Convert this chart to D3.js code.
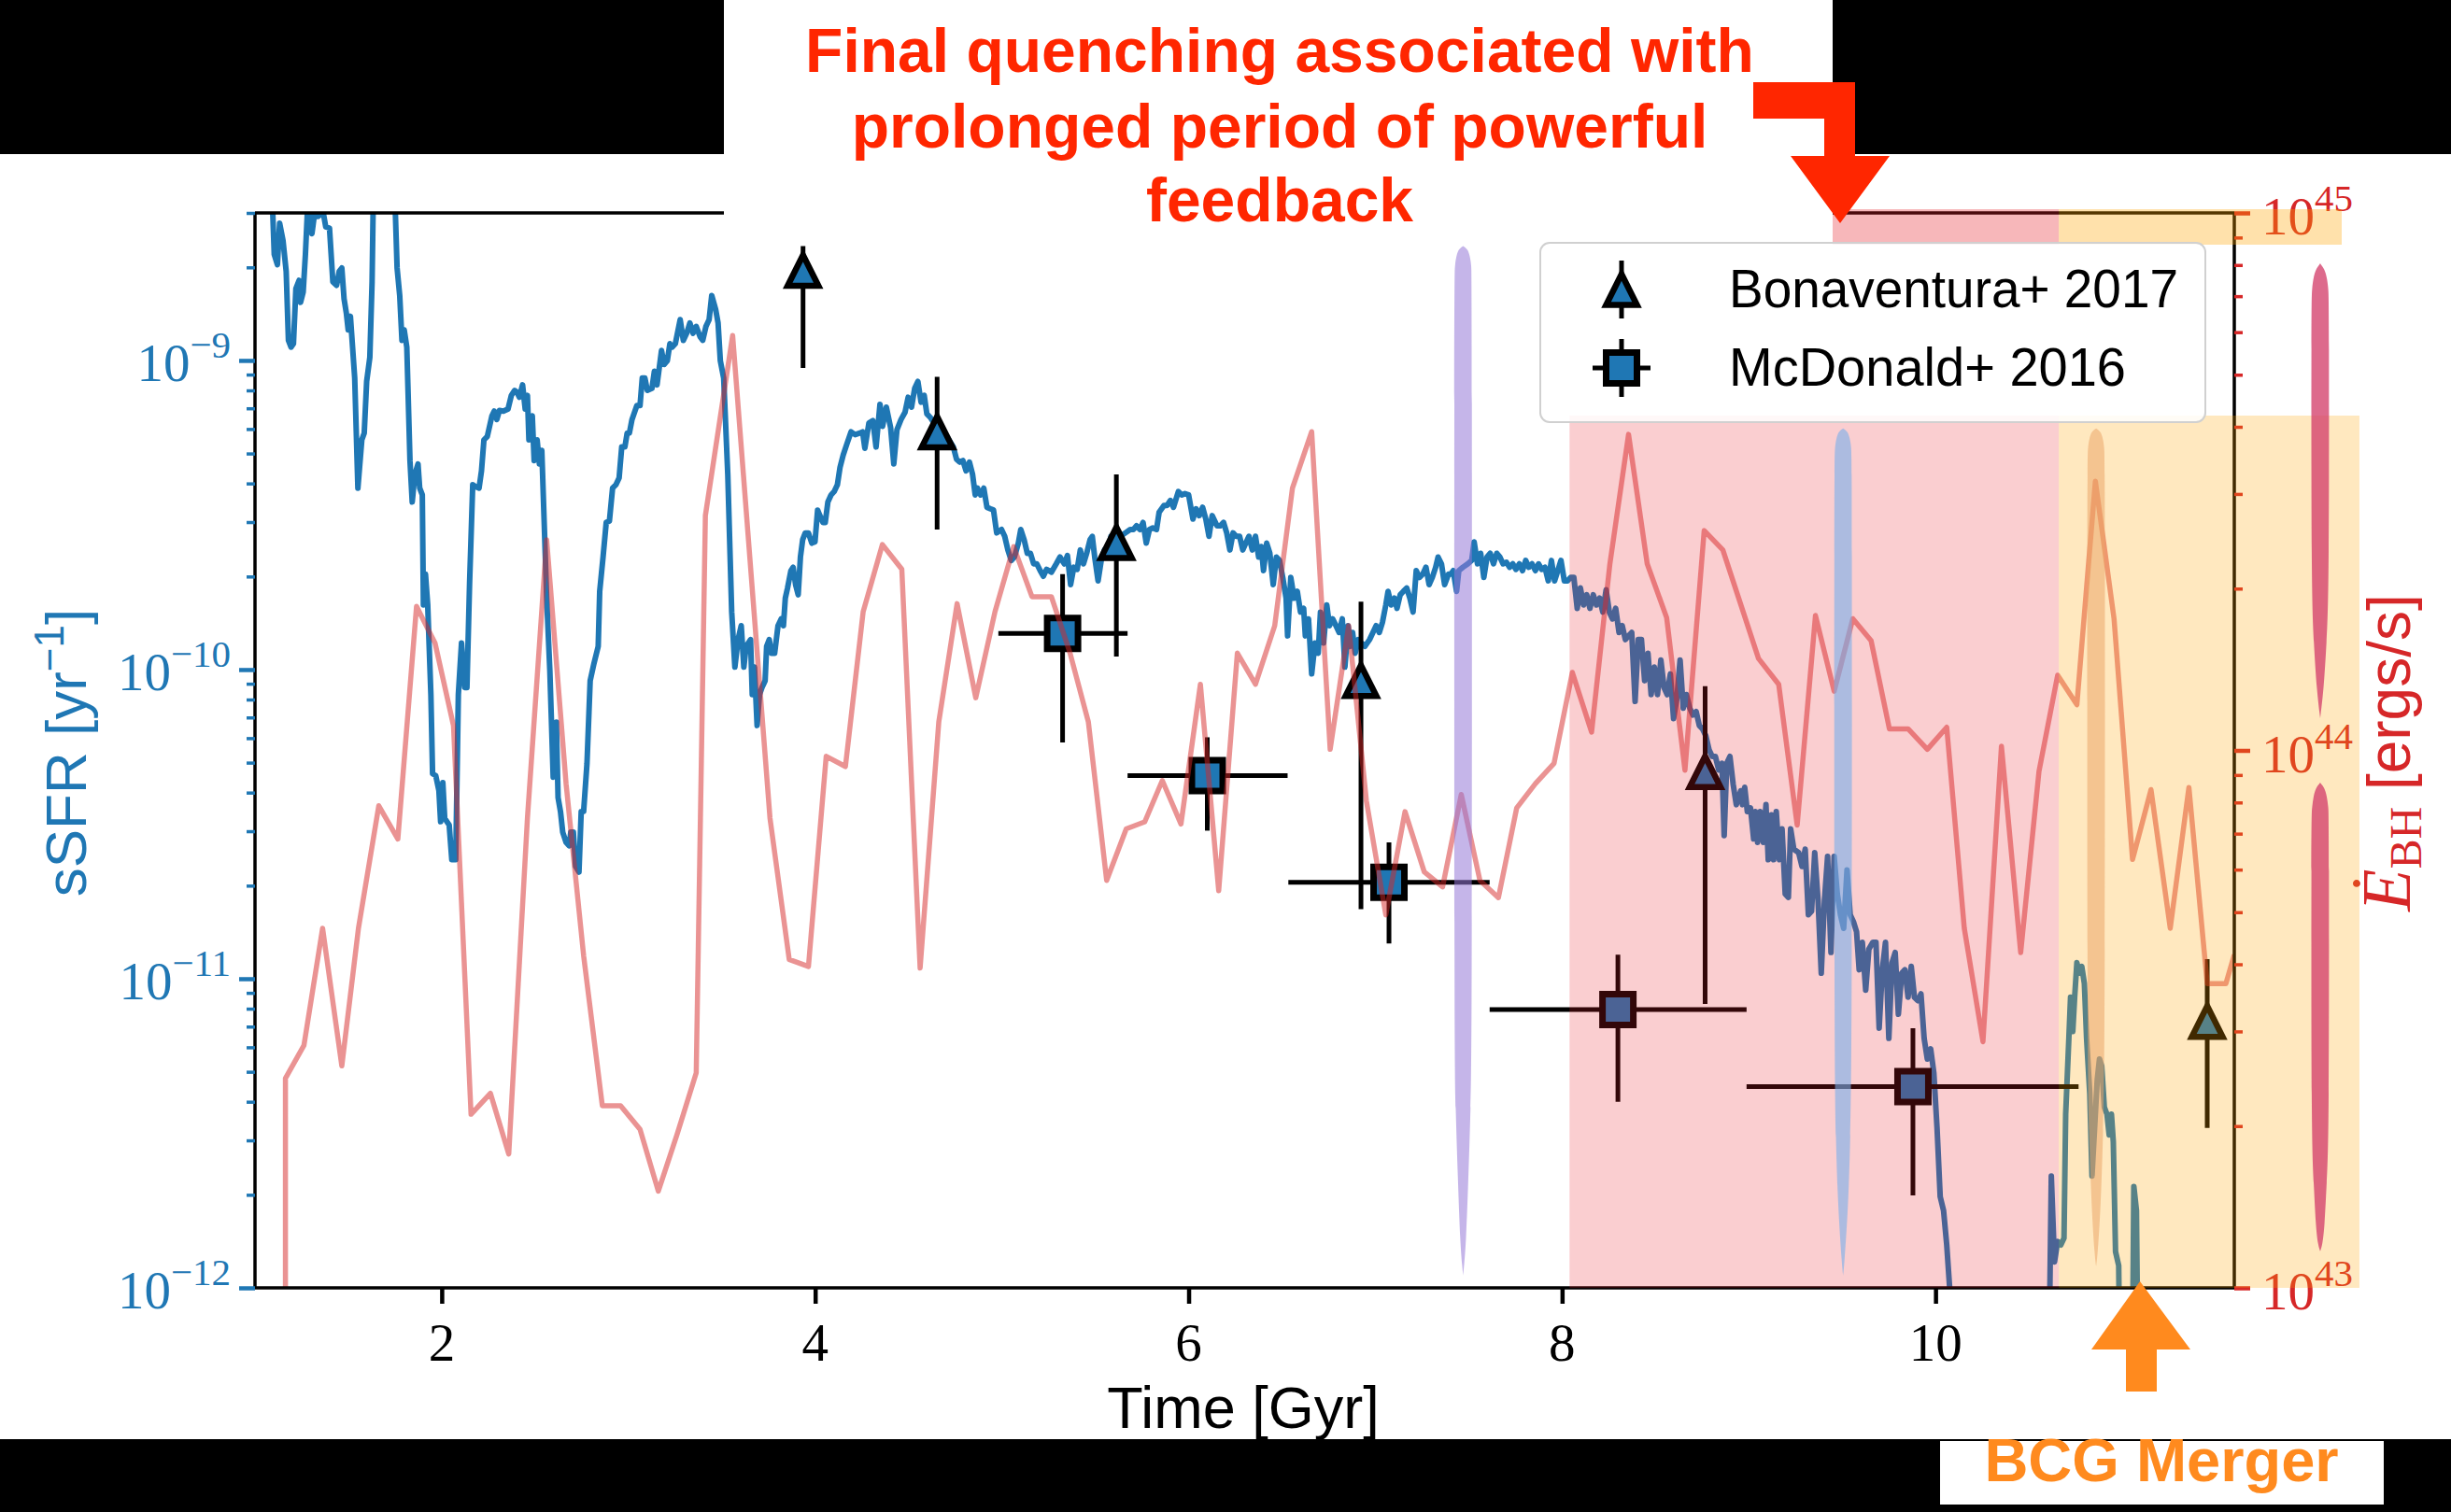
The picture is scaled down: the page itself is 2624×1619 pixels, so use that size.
<!DOCTYPE html>
<html>
<head>
<meta charset="utf-8">
<script src="https://cdn.jsdelivr.net/npm/d3@7"></script>
<style>
  body { margin: 0; background: #fff; }
  svg { display: block; }
</style>
</head>
<body>
<div id="chart"></div>
<script>
// ---- values ----
// specific star formation rate of the BCG, log10(sSFR / yr^-1)
var sfrTime = [1.000,1.085,1.103,1.120,1.132,1.150,1.167,1.179,1.193,1.206,1.219,1.236,1.244,1.258,1.270,1.282,1.293,1.305,1.317,1.339,1.362,1.379,1.399,1.417,1.437,1.451,1.465,1.477,1.489,1.499,1.511,1.534,1.551,1.572,1.585,1.598,1.615,1.627,1.640,1.735,1.761,1.775,1.787,1.799,1.813,1.830,1.842,1.856,1.873,1.882,1.896,1.902,1.913,1.925,1.942,1.951,1.968,1.985,1.994,2.006,2.016,2.028,2.040,2.054,2.075,2.089,2.106,2.123,2.135,2.149,2.166,2.183,2.200,2.213,2.226,2.244,2.269,2.281,2.295,2.309,2.330,2.355,2.373,2.390,2.402,2.416,2.433,2.447,2.459,2.467,2.485,2.495,2.511,2.523,2.536,2.550,2.562,2.579,2.597,2.614,2.623,2.636,2.648,2.666,2.683,2.691,2.705,2.717,2.735,2.747,2.760,2.778,2.795,2.815,2.838,2.846,2.864,2.881,2.898,2.915,2.933,2.950,2.964,2.981,2.993,3.005,3.019,3.045,3.062,3.074,3.088,3.101,3.126,3.139,3.153,3.165,3.177,3.191,3.208,3.222,3.234,3.251,3.277,3.294,3.312,3.329,3.346,3.363,3.384,3.398,3.415,3.432,3.446,3.467,3.480,3.492,3.510,3.532,3.553,3.570,3.587,3.604,3.618,3.630,
  3.654,3.663,3.675,3.689,3.702,3.715,3.732,3.740,3.754,3.766,3.783,3.801,3.818,3.830,3.840,3.852,3.870,3.882,3.895,3.909,3.921,3.933,3.947,3.964,3.982,3.999,4.013,4.025,4.042,4.054,4.068,4.085,4.102,4.119,4.133,4.150,4.171,4.192,4.214,4.240,4.254,4.266,4.288,4.309,4.326,4.347,4.361,4.381,4.404,4.421,4.438,4.460,4.481,4.498,4.516,4.533,4.550,4.567,4.584,4.598,4.619,4.636,4.653,4.671,4.705,4.740,4.757,4.774,4.791,4.808,4.826,4.843,4.857,4.869,4.886,4.903,4.920,4.938,4.955,4.972,4.998,5.015,5.032,5.050,5.067,5.088,5.101,5.119,5.136,5.153,5.170,5.187,5.205,5.222,5.239,5.265,5.291,5.311,5.334,5.351,5.368,5.385,5.403,5.420,5.437,5.454,5.472,5.484,5.497,5.515,5.532,5.549,5.566,5.584,5.609,5.635,5.661,5.687,5.704,5.721,5.739,5.756,5.773,5.790,5.808,5.828,5.842,5.868,5.885,5.902,5.919,5.945,5.963,5.980,6.000,6.023,6.040,6.057,6.075,6.092,6.109,6.126,6.152,6.169,6.187,6.204,6.221,6.238,6.255,6.273,6.290,
  6.306,6.323,6.341,6.358,6.375,6.389,6.401,6.418,6.435,6.453,6.470,6.487,6.504,6.522,6.530,6.547,6.565,6.582,6.599,6.616,6.625,6.642,6.659,6.677,6.694,6.706,6.723,6.740,6.754,6.771,6.789,6.806,6.823,6.837,6.854,6.866,6.878,6.892,6.909,6.926,6.944,6.969,6.987,7.004,7.021,7.038,7.056,7.068,7.085,7.102,7.116,7.133,7.150,7.168,7.185,7.202,7.219,7.236,7.254,7.271,7.288,7.305,7.323,7.336,7.354,7.371,7.392,7.405,7.417,7.435,7.447,7.469,7.495,7.516,7.529,7.547,7.564,7.581,7.598,7.615,7.633,7.650,7.667,7.684,7.702,7.719,7.736,7.753,7.771,7.788,7.805,7.822,7.839,7.857,7.874,7.891,7.908,7.926,7.943,7.960,7.977,7.994,8.012,8.029,8.046,8.063,8.081,8.098,8.115,8.132,8.149,8.167,8.184,8.201,8.218,8.236,8.253,8.270,8.287,8.305,8.322,8.339,8.356,8.373,8.391,8.408,8.425,8.442,8.460,8.477,8.494,8.511,8.529,8.546,8.563,8.580,8.597,8.615,8.632,8.649,8.666,8.684,8.701,8.718,8.735,8.752,8.770,8.787,8.804,8.821,8.839,8.856,8.868,8.882,8.899,8.916,8.933,
  8.957,8.966,8.978,8.992,9.009,9.026,9.035,9.047,9.061,9.078,9.092,9.104,9.121,9.133,9.147,9.164,9.178,9.195,9.212,9.224,9.241,9.267,9.285,9.302,9.319,9.336,9.353,9.371,9.388,9.405,9.422,9.440,9.457,9.474,9.491,9.508,9.526,9.543,9.560,9.577,9.591,9.608,9.626,9.643,9.664,9.681,9.698,9.715,9.732,9.750,9.767,9.784,9.801,9.819,9.836,9.853,9.870,9.887,9.905,9.922,9.939,9.956,9.974,9.991,10.008,10.025,10.043,10.060,10.077,10.090,10.600,10.620,10.637,10.654,10.671,10.688,10.697,10.714,10.723,10.735,10.745,10.757,10.769,10.783,10.797,10.809,10.826,10.838,10.852,10.866,10.878,10.890,10.904,10.918,10.930,10.942,10.952,10.964,10.981,10.993,11.050,11.062,11.076,11.090];
var sfrLog = [-8.20,-8.35,-8.657,-8.690,-8.556,-8.612,-8.712,-8.935,-8.957,-8.946,-8.768,-8.741,-8.812,-8.779,-8.657,-8.50,-8.50,-8.590,-8.534,-8.534,-8.51,-8.568,-8.572,-8.746,-8.757,-8.712,-8.701,-8.801,-8.846,-8.901,-8.857,-9.057,-9.413,-9.257,-9.235,-9.068,-8.990,-8.746,-8.20,-8.20,-8.701,-8.790,-8.935,-8.901,-8.957,-9.324,-9.458,-9.369,-9.335,-9.413,-9.435,-9.791,-9.691,-9.791,-10.081,-10.337,-10.343,-10.392,-10.492,-10.366,-10.481,-10.492,-10.503,-10.615,-10.615,-10.081,-9.914,-10.058,-10.058,-9.725,-9.402,-9.409,-9.413,-9.357,-9.257,-9.246,-9.179,-9.164,-9.191,-9.162,-9.164,-9.157,-9.113,-9.097,-9.102,-9.119,-9.079,-9.157,-9.113,-9.257,-9.179,-9.324,-9.257,-9.335,-9.291,-9.547,-9.769,-10.003,-10.348,-10.170,-10.414,-10.459,-10.526,-10.559,-10.570,-10.526,-10.526,-10.637,-10.655,-10.459,-10.459,-10.303,-10.036,-9.981,-9.925,-9.747,-9.636,-9.524,-9.520,-9.413,-9.402,-9.380,-9.280,-9.280,-9.235,-9.235,-9.191,-9.146,-9.146,-9.057,-9.057,-9.097,-9.090,-9.035,-9.079,-9.024,-8.968,-9.013,-9.001,-8.946,-8.957,-8.946,-8.868,-8.935,-8.912,-8.879,-8.912,-8.890,-8.924,-8.935,-8.890,-8.868,-8.790,-8.835,-8.879,-9.001,-9.057,-9.369,-9.814,-9.992,-9.903,-9.858,-9.992,-9.925,
  -9.903,-10.081,-9.992,-10.181,-10.081,-10.058,-10.036,-9.925,-9.903,-9.947,-9.947,-9.858,-9.836,-9.858,-9.769,-9.736,-9.680,-9.669,-9.725,-9.758,-9.636,-9.580,-9.558,-9.558,-9.591,-9.587,-9.484,-9.502,-9.524,-9.524,-9.458,-9.435,-9.424,-9.402,-9.346,-9.306,-9.268,-9.231,-9.240,-9.235,-9.231,-9.284,-9.202,-9.195,-9.280,-9.142,-9.213,-9.151,-9.217,-9.335,-9.224,-9.191,-9.168,-9.119,-9.151,-9.090,-9.068,-9.135,-9.113,-9.173,-9.186,-9.202,-9.213,-9.235,-9.246,-9.280,-9.320,-9.329,-9.324,-9.357,-9.329,-9.369,-9.435,-9.413,-9.435,-9.413,-9.475,-9.480,-9.484,-9.558,-9.547,-9.569,-9.613,-9.647,-9.636,-9.591,-9.547,-9.580,-9.624,-9.624,-9.658,-9.658,-9.680,-9.698,-9.676,-9.685,-9.658,-9.636,-9.658,-9.631,-9.725,-9.669,-9.676,-9.613,-9.658,-9.624,-9.580,-9.569,-9.636,-9.713,-9.647,-9.613,-9.624,-9.569,-9.558,-9.569,-9.558,-9.547,-9.547,-9.535,-9.547,-9.524,-9.591,-9.547,-9.542,-9.547,-9.491,-9.469,-9.469,-9.453,-9.475,-9.424,-9.435,-9.431,-9.435,-9.513,-9.480,-9.502,-9.475,-9.513,-9.569,-9.502,-9.535,-9.535,-9.524,-9.558,-9.613,-9.558,-9.569,-9.569,-9.613,
  -9.591,-9.569,-9.613,-9.569,-9.636,-9.602,-9.680,-9.591,-9.624,-9.725,-9.636,-9.647,-9.702,-9.769,-9.891,-9.702,-9.769,-9.747,-9.814,-9.802,-9.891,-9.836,-10.014,-9.914,-9.947,-9.814,-9.914,-9.791,-9.858,-9.836,-9.858,-9.880,-9.836,-9.992,-9.858,-9.925,-9.880,-9.947,-9.903,-9.914,-9.925,-9.903,-9.880,-9.858,-9.880,-9.847,-9.791,-9.747,-9.791,-9.769,-9.802,-9.758,-9.747,-9.736,-9.769,-9.814,-9.680,-9.702,-9.691,-9.669,-9.725,-9.702,-9.669,-9.636,-9.658,-9.725,-9.691,-9.691,-9.680,-9.747,-9.680,-9.669,-9.658,-9.647,-9.587,-9.658,-9.624,-9.702,-9.636,-9.624,-9.658,-9.624,-9.636,-9.658,-9.653,-9.669,-9.658,-9.676,-9.658,-9.680,-9.647,-9.669,-9.658,-9.680,-9.658,-9.676,-9.669,-9.713,-9.647,-9.713,-9.680,-9.647,-9.713,-9.713,-9.702,-9.702,-9.802,-9.736,-9.791,-9.758,-9.802,-9.758,-9.791,-9.769,-9.814,-9.742,-9.814,-9.836,-9.802,-9.880,-9.858,-9.903,-9.891,-9.880,-10.103,-9.903,-9.903,-10.036,-9.947,-10.081,-9.992,-10.081,-9.969,-10.058,-10.081,-10.014,-10.159,-10.092,-9.969,-10.125,-10.081,-10.125,-10.147,-10.136,-10.181,-10.192,-10.214,-10.259,-10.281,-10.281,-10.325,-10.303,-10.537,-10.303,-10.281,-10.370,-10.437,
  -10.392,-10.437,-10.381,-10.459,-10.448,-10.548,-10.459,-10.559,-10.459,-10.559,-10.437,-10.615,-10.470,-10.615,-10.459,-10.615,-10.515,-10.726,-10.737,-10.515,-10.581,-10.592,-10.637,-10.581,-10.793,-10.782,-10.592,-10.748,-10.982,-10.748,-10.604,-10.915,-10.604,-10.726,-10.793,-10.837,-10.648,-10.793,-10.815,-10.848,-10.971,-10.882,-11.037,-10.904,-10.882,-10.882,-11.160,-10.971,-10.882,-11.193,-10.948,-10.915,-11.115,-10.982,-10.971,-11.060,-10.960,-11.060,-11.071,-11.049,-11.193,-11.260,-11.227,-11.305,-11.482,-11.705,-11.750,-11.861,-12.012,-12.6,-12.6,-11.638,-11.916,-11.850,-11.861,-11.839,-11.438,-11.193,-11.060,-11.171,-11.060,-10.948,-10.982,-10.960,-11.015,-11.193,-11.371,-11.638,-11.482,-11.327,-11.260,-11.282,-11.416,-11.438,-11.505,-11.438,-11.527,-11.883,-11.928,-12.6,-12.6,-11.672,-11.750,-12.6];

// black hole energy output, log10(E_BH / erg s^-1)
var bhTime = [1.163,1.163,1.262,1.362,1.465,1.554,1.663,1.765,1.865,1.964,2.063,2.157,2.261,2.359,2.459,2.562,2.666,2.760,2.860,2.958,3.062,3.160,3.260,3.363,3.412,3.558,3.758,3.861,3.964,4.059,4.162,4.257,4.360,4.464,4.562,4.662,4.760,4.860,4.963,5.063,5.161,5.265,5.365,5.463,5.561,5.666,5.765,5.859,5.959,6.063,6.161,6.261,6.358,6.461,6.556,6.659,6.758,6.857,6.952,7.056,7.159,7.262,7.360,7.460,7.560,7.659,7.757,7.857,7.957,8.055,8.158,8.256,8.356,8.456,8.560,8.658,8.761,8.861,9.052,9.160,9.259,9.357,9.457,9.557,9.655,9.753,9.853,9.956,10.060,10.154,10.254,10.353,10.456,10.554,10.654,10.757,10.856,10.956,11.055,11.154,11.257,11.357,11.455,11.555,11.600];
var bhLog = [42.8,43.390,43.451,43.669,43.413,43.669,43.897,43.835,44.268,44.200,44.046,43.323,43.362,43.249,43.874,44.392,43.938,43.618,43.339,43.339,43.295,43.180,43.285,43.400,44.437,44.772,43.874,43.611,43.598,43.989,43.970,44.258,44.383,44.337,43.595,44.053,44.273,44.098,44.258,44.379,44.286,44.286,44.181,44.053,43.758,43.854,43.867,43.944,43.863,44.123,43.739,44.181,44.123,44.232,44.488,44.593,44.002,44.232,43.906,43.694,43.886,43.774,43.746,43.918,43.758,43.726,43.893,43.938,43.976,44.145,44.034,44.347,44.588,44.347,44.247,43.963,44.409,44.373,44.171,44.123,43.861,44.251,44.110,44.245,44.204,44.040,44.040,44.002,44.043,43.669,43.458,44.008,43.624,43.961,44.140,44.085,44.501,44.245,43.797,43.927,43.669,43.931,43.566,43.566,43.62];

// Bonaventura+ 2017 (log10 sSFR with lower / upper error)
var bonaTime  = [3.935, 4.653, 5.613, 6.923, 8.766, 11.455];
var bonaLog   = [-8.709, -9.231, -9.589, -10.036, -10.330, -11.138];
var bonaLogLo = [-9.024, -9.547, -9.958, -10.775, -11.082, -11.483];
var bonaLogHi = [-8.630, -9.053, -9.369, -9.780, -10.054, -10.937];

// McDonald+ 2016 (time and log10 sSFR ranges)
var mcdTime   = [5.325, 6.100, 7.073, 8.299, 9.879];
var mcdTimeLo = [4.981, 5.673, 6.534, 7.612, 8.988];
var mcdTimeHi = [5.673, 6.530, 7.612, 8.988, 10.766];
var mcdLog    = [-9.883, -10.343, -10.688, -11.100, -11.349];
var mcdLogLo  = [-10.236, -10.521, -10.886, -11.398, -11.701];
var mcdLogHi  = [-9.691, -10.219, -10.559, -10.922, -11.160];

// violin distributions: [log10 value, relative width]
var violinTimes = [7.47, 9.505, 10.86];
var violinPurple = [[-8.63,0],[-8.64,0.5],[-8.66,0.75],[-8.69,0.92],[-8.74,1],[-11.19,1],[-11.42,0.85],[-11.64,0.6],[-11.86,0.32],[-11.93,0.1],[-11.96,0]];
var violinBlue   = [[-9.22,0],[-9.23,0.5],[-9.25,0.75],[-9.28,0.92],[-9.33,1],[-11.19,1],[-11.53,0.82],[-11.75,0.55],[-11.93,0.12],[-11.96,0]];
var violinOrange = [[-9.22,0],[-9.23,0.5],[-9.25,0.75],[-9.28,0.92],[-9.33,1],[-11.20,1],[-11.50,0.8],[-11.75,0.5],[-11.90,0.15],[-11.93,0]];
var bhViolinTime = 12.06;
var bhViolinUpper = [[44.906,0],[44.895,0.5],[44.88,0.75],[44.86,0.92],[44.83,1],[44.30,1],[44.20,0.72],[44.11,0.38],[44.06,0]];
var bhViolinLower = [[43.94,0],[43.93,0.5],[43.915,0.75],[43.895,0.92],[43.87,1],[43.275,1],[43.195,0.72],[43.115,0.5],[43.08,0.25],[43.068,0]];

// shaded epochs [Gyr]
var quenchSpan = [8.04, 10.66];
var mergerSpan = [10.66, 12.27];

// axes
var timeDomain = [1, 11.6];
var sfrDomain = [1e-12, 3e-9];
var bhDomain = [1e43, 1e45];
var xTicks = [2, 4, 6, 8, 10];
var sfrTickExp = [-12, -11, -10, -9];
var bhTickExp = [43, 44, 45];

var legendLabels = ["Bonaventura+ 2017", "McDonald+ 2016"];
var quenchNote = ["Final quenching associated with", "prolonged period of powerful", "feedback"];
var mergerNote = "BCG Merger";

// ---- layout ----
var W = 2624, H = 1619;
var plot = {left: 273, right: 2392, top: 228, bottom: 1379};
var blue = "#1f77b4", red = "#d62728";
var serif = "'Liberation Serif', 'DejaVu Serif', serif";
var sans = "'Liberation Sans', Arial, sans-serif";

var svg = d3.select("#chart").append("svg")
  .attr("width", W).attr("height", H)
  .style("font-family", sans);
svg.append("rect").attr("width", W).attr("height", H).attr("fill", "#fff");

var x = d3.scaleLinear().domain(timeDomain).range([plot.left, plot.right]);
var y = d3.scaleLog().domain(sfrDomain).range([plot.bottom, plot.top]);
var yR = d3.scaleLog().domain(bhDomain).range([plot.bottom, plot.top]);
function p10(v) { return Math.pow(10, v); }

svg.append("clipPath").attr("id", "plotClip")
  .append("rect")
  .attr("x", plot.left).attr("y", plot.top)
  .attr("width", plot.right - plot.left).attr("height", plot.bottom - plot.top);

// sSFR curve
var sfrPts = sfrTime.map(function(t, i) { return [t, sfrLog[i]]; });
svg.append("path")
  .datum(sfrPts)
  .attr("clip-path", "url(#plotClip)")
  .attr("fill", "none").attr("stroke", blue).attr("stroke-width", 6)
  .attr("stroke-linejoin", "round")
  .attr("d", d3.line().x(function(d) { return x(d[0]); }).y(function(d) { return y(p10(d[1])); }));

// observations
function triPath(s) { return "M0," + (-s) + "L" + s + "," + s + "L" + (-s) + "," + s + "Z"; }
function sqPath(s) { return "M" + (-s) + "," + (-s) + "H" + s + "V" + s + "H" + (-s) + "Z"; }

var obs = svg.append("g");
bonaTime.forEach(function(t, i) {
  obs.append("line")
    .attr("x1", x(t)).attr("x2", x(t))
    .attr("y1", y(p10(bonaLogLo[i]))).attr("y2", y(p10(bonaLogHi[i])))
    .attr("stroke", "#000").attr("stroke-width", 5);
});
mcdTime.forEach(function(t, i) {
  obs.append("line")
    .attr("x1", x(t)).attr("x2", x(t))
    .attr("y1", y(p10(mcdLogLo[i]))).attr("y2", y(p10(mcdLogHi[i])))
    .attr("stroke", "#000").attr("stroke-width", 5);
  obs.append("line")
    .attr("x1", x(mcdTimeLo[i])).attr("x2", x(mcdTimeHi[i]))
    .attr("y1", y(p10(mcdLog[i]))).attr("y2", y(p10(mcdLog[i])))
    .attr("stroke", "#000").attr("stroke-width", 5);
});
bonaTime.forEach(function(t, i) {
  obs.append("path")
    .attr("transform", "translate(" + x(t) + "," + y(p10(bonaLog[i])) + ")")
    .attr("d", triPath(16.5))
    .attr("fill", blue).attr("stroke", "#000").attr("stroke-width", 6.5);
});
mcdTime.forEach(function(t, i) {
  obs.append("path")
    .attr("transform", "translate(" + x(t) + "," + y(p10(mcdLog[i])) + ")")
    .attr("d", sqPath(16.5))
    .attr("fill", blue).attr("stroke", "#000").attr("stroke-width", 7);
});

// black hole power curve
var bhPts = bhTime.map(function(t, i) { return [t, bhLog[i]]; });
svg.append("path")
  .datum(bhPts)
  .attr("clip-path", "url(#plotClip)")
  .attr("fill", "none").attr("stroke", red).attr("stroke-opacity", 0.5).attr("stroke-width", 5.5)
  .attr("stroke-linejoin", "round")
  .attr("d", d3.line().x(function(d) { return x(d[0]); }).y(function(d) { return yR(p10(d[1])); }));

// spines
var spines = svg.append("g").attr("stroke", "#000").attr("stroke-width", 3.5);
spines.append("line").attr("x1", plot.left).attr("x2", plot.right).attr("y1", plot.top).attr("y2", plot.top);
spines.append("line").attr("x1", plot.left).attr("x2", plot.right).attr("y1", plot.bottom).attr("y2", plot.bottom);
spines.append("line").attr("x1", plot.left).attr("x2", plot.left).attr("y1", plot.top).attr("y2", plot.bottom);
spines.append("line").attr("x1", plot.right).attr("x2", plot.right).attr("y1", plot.top).attr("y2", plot.bottom);

// ticks
function minorsOf(exps, maxV) {
  var out = [];
  exps.forEach(function(e) {
    for (var k = 2; k <= 9; k++) { var v = k * p10(e); if (v <= maxV * 1.0001) out.push(v); }
  });
  return out;
}
function styleAxis(g, color, width) {
  g.select(".domain").remove();
  g.selectAll(".tick line").attr("stroke", color).attr("stroke-width", width);
}

var gx = svg.append("g").attr("transform", "translate(0," + plot.bottom + ")")
  .call(d3.axisBottom(x).tickValues(xTicks).tickSize(17).tickFormat(""));
styleAxis(gx, "#000", 4.5);
xTicks.forEach(function(t) {
  svg.append("text").attr("x", x(t)).attr("y", 1457)
    .attr("text-anchor", "middle").attr("font-family", serif).attr("font-size", 57)
    .text(t);
});

var gyMaj = svg.append("g").attr("transform", "translate(" + plot.left + ",0)")
  .call(d3.axisLeft(y).tickValues(sfrTickExp.map(p10)).tickSize(17).tickFormat(""));
styleAxis(gyMaj, blue, 4.5);
var gyMin = svg.append("g").attr("transform", "translate(" + plot.left + ",0)")
  .call(d3.axisLeft(y).tickValues(minorsOf([-12, -11, -10, -9], sfrDomain[1])).tickSize(9).tickFormat(""));
styleAxis(gyMin, blue, 3.5);
sfrTickExp.forEach(function(e) {
  var t = svg.append("text").attr("x", 247).attr("y", y(p10(e)) + 22)
    .attr("text-anchor", "end").attr("font-family", serif).attr("font-size", 57).attr("fill", blue);
  t.append("tspan").text("10");
  t.append("tspan").attr("dy", -25).attr("font-size", 41).text("\u2212" + (-e));
});

var grMaj = svg.append("g").attr("transform", "translate(" + plot.right + ",0)")
  .call(d3.axisRight(yR).tickValues(bhTickExp.map(p10)).tickSize(17).tickFormat(""));
styleAxis(grMaj, red, 4.5);
var grMin = svg.append("g").attr("transform", "translate(" + plot.right + ",0)")
  .call(d3.axisRight(yR).tickValues(minorsOf([43, 44], bhDomain[1])).tickSize(9).tickFormat(""));
styleAxis(grMin, red, 3.5);
bhTickExp.forEach(function(e) {
  var t = svg.append("text").attr("x", 2421).attr("y", yR(p10(e)) + 23)
    .attr("font-family", serif).attr("font-size", 57).attr("fill", red);
  t.append("tspan").text("10");
  t.append("tspan").attr("dy", -25).attr("font-size", 41).text(e);
});

// axis labels
svg.append("text").attr("x", 1331).attr("y", 1529)
  .attr("text-anchor", "middle").attr("font-size", 63).text("Time [Gyr]");

var ly = svg.append("text").attr("transform", "translate(92,806) rotate(-90)")
  .attr("text-anchor", "middle").attr("font-size", 62).attr("fill", blue);
ly.append("tspan").text("sSFR [yr");
ly.append("tspan").attr("dy", -24).attr("font-size", 44).text("\u22121");
ly.append("tspan").attr("dy", 24).text("]");

var lr = svg.append("text").attr("transform", "translate(2580,806) rotate(-90)")
  .attr("text-anchor", "middle").attr("fill", red);
lr.append("tspan").attr("font-family", serif).attr("font-style", "italic").attr("font-size", 74).text("\u0116");
lr.append("tspan").attr("font-family", serif).attr("font-size", 48).attr("dy", 12).text("BH");
lr.append("tspan").attr("font-size", 64).attr("dy", -12).text(" [ergs/s]");

// shaded epochs: main band and thin band at the top edge
var shadeMain = {top: 445, bottom: plot.bottom, right: x(mergerSpan[1])};
var shadeStrip = {top: 224, bottom: 262, right: 2507};
[[quenchSpan, "rgb(230,30,40)", 0.22, 0.32], [mergerSpan, "rgb(255,165,0)", 0.25, 0.33]].forEach(function(s) {
  var x0 = x(s[0][0]), x1 = x(s[0][1]);
  svg.append("rect")
    .attr("x", x0).attr("width", Math.min(x1, shadeMain.right) - x0)
    .attr("y", shadeMain.top).attr("height", shadeMain.bottom - shadeMain.top)
    .attr("fill", s[1]).attr("fill-opacity", s[2]);
  svg.append("rect")
    .attr("x", x0).attr("width", Math.min(x1, shadeStrip.right) - x0)
    .attr("y", shadeStrip.top).attr("height", shadeStrip.bottom - shadeStrip.top)
    .attr("fill", s[1]).attr("fill-opacity", s[3]);
});

// violins
var halfW = d3.scaleLinear().domain([0, 1]).range([0, 9.5]);
function violin(profile, t, scale, fill, op) {
  var area = d3.area()
    .curve(d3.curveBasis)
    .y(function(d) { return scale(p10(d[0])); })
    .x0(function(d) { return x(t) - halfW(d[1]); })
    .x1(function(d) { return x(t) + halfW(d[1]); });
  svg.append("path").datum(profile).attr("d", area)
    .attr("fill", fill).attr("fill-opacity", op);
}
violin(violinPurple, violinTimes[0], y, "rgb(150,120,215)", 0.55);
violin(violinBlue, violinTimes[1], y, "rgb(120,175,235)", 0.6);
violin(violinOrange, violinTimes[2], y, "rgb(235,165,105)", 0.55);
violin(bhViolinUpper, bhViolinTime, yR, "#d4406c", 0.78);
violin(bhViolinLower, bhViolinTime, yR, "#d4406c", 0.78);

// white box behind the note (covers the top of the frame)
svg.append("rect").attr("x", 775).attr("y", 0).attr("width", 1187).attr("height", 263).attr("fill", "#fff");

// legend
var leg = svg.append("g");
leg.append("rect").attr("x", 1649).attr("y", 260).attr("width", 712).attr("height", 192)
  .attr("rx", 10).attr("fill", "#fff").attr("fill-opacity", 0.85)
  .attr("stroke", "#d0d0d0").attr("stroke-width", 2);
var lx = 1736, lys = [310, 394];
leg.append("line").attr("x1", lx).attr("x2", lx).attr("y1", lys[0] - 31).attr("y2", lys[0] + 31)
  .attr("stroke", "#000").attr("stroke-width", 5);
leg.append("path").attr("transform", "translate(" + lx + "," + lys[0] + ")").attr("d", triPath(16.5))
  .attr("fill", blue).attr("stroke", "#000").attr("stroke-width", 6.5);
leg.append("line").attr("x1", lx).attr("x2", lx).attr("y1", lys[1] - 31).attr("y2", lys[1] + 31)
  .attr("stroke", "#000").attr("stroke-width", 5);
leg.append("line").attr("x1", lx - 31).attr("x2", lx + 31).attr("y1", lys[1]).attr("y2", lys[1])
  .attr("stroke", "#000").attr("stroke-width", 5);
leg.append("path").attr("transform", "translate(" + lx + "," + lys[1] + ")").attr("d", sqPath(16.5))
  .attr("fill", blue).attr("stroke", "#000").attr("stroke-width", 7);
var legWidths = [481, 425];
legendLabels.forEach(function(s, i) {
  leg.append("text").attr("x", 1851).attr("y", lys[i] + 19)
    .attr("font-size", 57).attr("textLength", legWidths[i]).attr("lengthAdjust", "spacingAndGlyphs")
    .text(s);
});

// black bands of the composite frame
svg.append("rect").attr("x", 0).attr("y", 0).attr("width", 775).attr("height", 165).attr("fill", "#000");
svg.append("rect").attr("x", 1962).attr("y", 0).attr("width", 662).attr("height", 165).attr("fill", "#000");
svg.append("rect").attr("x", 0).attr("y", 1541).attr("width", W).attr("height", H - 1541).attr("fill", "#000");
svg.append("rect").attr("x", 2077).attr("y", 1543).attr("width", 475).attr("height", 68).attr("fill", "#fff");

// annotations
var noteRed = "#ff2600", noteOrange = "#ff8a1e";
var baselines = [77, 158, 237];
quenchNote.forEach(function(s, i) {
  svg.append("text").attr("x", 1370).attr("y", baselines[i])
    .attr("text-anchor", "middle").attr("font-weight", "bold").attr("font-size", 66)
    .attr("fill", noteRed).text(s);
});
svg.append("path")
  .attr("d", "M1877,88H1986V167H2023L1970,239L1917,167H1953V127H1877Z")
  .attr("fill", noteRed);

svg.append("path")
  .attr("d", "M2291,1372L2345,1445H2309V1490H2276V1445H2239Z")
  .attr("fill", noteOrange);
svg.append("text").attr("x", 2314).attr("y", 1586)
  .attr("text-anchor", "middle").attr("font-weight", "bold").attr("font-size", 65)
  .attr("fill", noteOrange).text(mergerNote);
</script>
</body>
</html>
